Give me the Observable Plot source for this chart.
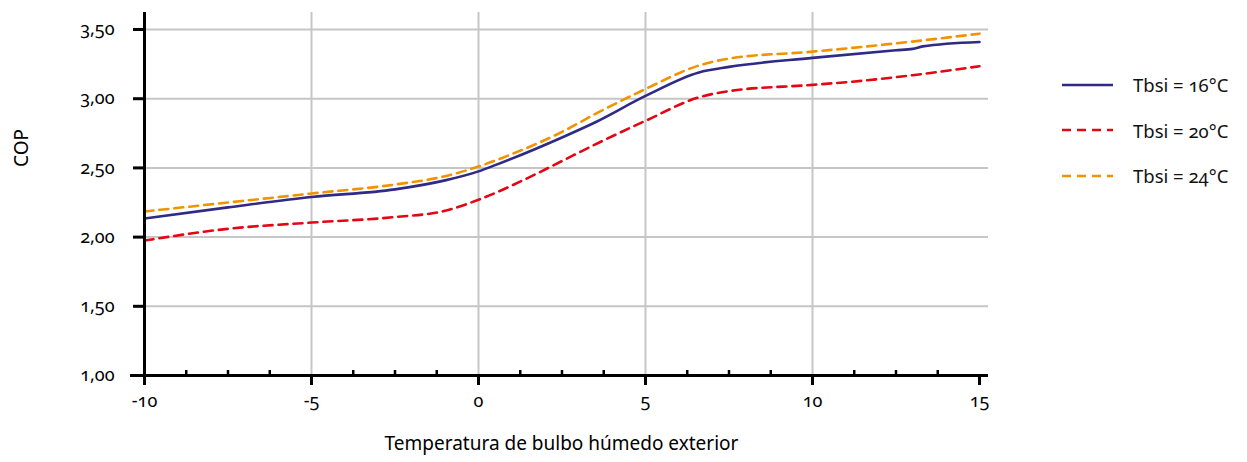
<!DOCTYPE html>
<html><head><meta charset="utf-8">
<script src="https://cdn.jsdelivr.net/npm/d3@7"></script>
<script src="https://cdn.jsdelivr.net/npm/@observablehq/plot@0.6"></script>
<style>
body{margin:0;background:#fff;font-family:"Noto Sans",sans-serif;}
#wrap{position:relative;width:1247px;height:462px;}
#legend{position:absolute;left:1062px;top:62px;font-size:18.5px;color:#111;font-variant-numeric:oldstyle-nums;}
.item{display:flex;align-items:center;height:45.5px;}
.item svg{margin-right:20px;}
svg text{font-variant-numeric:oldstyle-nums;}
</style></head><body><div id="wrap"><div id="legend"></div></div>
<script>
// Series names and styles
const seriesNames = ["Tbsi = 16°C", "Tbsi = 20°C", "Tbsi = 24°C"];
const seriesColors = ["#2e2a85", "#e30613", "#f39200"];
const seriesDash = [null, "9 6", "9 6"];

// Tbsi = 16°C
const t16 = [-10, -7.5, -5, -2.5, -1, 0, 0.5, 2.5, 3.5, 5, 6.6, 7.5, 10, 12.5, 13, 13.3, 15];
const cop16 = [2.135, 2.215, 2.29, 2.345, 2.41, 2.475, 2.52, 2.72, 2.83, 3.02, 3.19, 3.23, 3.295, 3.35, 3.36, 3.378, 3.41];
// Tbsi = 20°C
const t20 = [-10, -7.5, -5, -2.5, -1, 0, 1.5, 2.5, 3.5, 5, 6.6, 7.5, 10, 11.5, 13, 15];
const cop20 = [1.975, 2.06, 2.105, 2.145, 2.19, 2.27, 2.43, 2.55, 2.67, 2.84, 3.01, 3.055, 3.10, 3.13, 3.17, 3.235];
// Tbsi = 24°C
const t24 = [-10, -7.5, -5, -2.5, -1, 0, 1, 2.5, 3.5, 5, 6.6, 7.5, 10, 12.5, 15];
const cop24 = [2.185, 2.25, 2.315, 2.38, 2.44, 2.51, 2.6, 2.76, 2.89, 3.07, 3.24, 3.29, 3.34, 3.40, 3.47];

const xTicks = [-10, -5, 0, 5, 10, 15];
const xGrid = [-5, 0, 5, 10];
const xMinor = [-8.75, -7.5, -6.25, -3.75, -2.5, -1.25, 1.25, 2.5, 3.75, 6.25, 7.5, 8.75, 11.25, 12.5, 13.75];
const yTicks = [1, 1.5, 2, 2.5, 3, 3.5];

const seriesT = [t16, t20, t24];
const seriesC = [cop16, cop20, cop24];
const rows = [];
seriesNames.forEach((s, i) => seriesT[i].forEach((t, j) => rows.push({serie: s, t, cop: seriesC[i][j]})));

const fmtY = d => d.toFixed(2).replace(".", ",");

const lineMarks = seriesNames.map((s, i) => Plot.line(rows.filter(r => r.serie === s), {
  x: "t", y: "cop", stroke: seriesColors[i], strokeWidth: 2.6,
  strokeDasharray: seriesDash[i], curve: "monotone-x"
}));

const chart = Plot.plot({
  width: 1247, height: 462,
  marginLeft: 144, marginRight: 259, marginTop: 12, marginBottom: 87,
  style: {fontFamily: "Noto Sans", fontSize: "18px", color: "#000", background: "transparent"},
  x: {domain: [-10, 15.27]},
  y: {domain: [1, 3.623]},
  marks: [
    Plot.gridY(yTicks.slice(1), {stroke: "#c6c6c6", strokeOpacity: 1, strokeWidth: 2}),
    Plot.gridX(xGrid, {stroke: "#c6c6c6", strokeOpacity: 1, strokeWidth: 2}),
    ...lineMarks,
    Plot.axisY({ticks: yTicks, tickSize: 11, tickPadding: 19, tickFormat: fmtY, strokeWidth: 3, label: null, fontSize: 18}),
    Plot.axisX({ticks: xTicks, tickSize: 10, tickPadding: 9, tickFormat: d => String(d), strokeWidth: 3, label: null, fontSize: 18}),
    Plot.axisX({ticks: xMinor, tickSize: -5, tickFormat: () => "", strokeWidth: 2.5, label: null}),
    Plot.ruleY([1], {stroke: "#000", strokeWidth: 3, insetLeft: -14}),
    Plot.ruleX([-10], {stroke: "#000", strokeWidth: 3, insetBottom: -7}),
    Plot.text(["COP"], {frameAnchor: "left", text: d => d, rotate: -90, dx: -123, dy: -27, fontSize: 19}),
    Plot.text(["Temperatura de bulbo húmedo exterior"], {frameAnchor: "bottom", text: d => d, dx: -5, dy: 74, fontSize: 19})
  ]
});
const wrap = document.getElementById("wrap");
wrap.insertBefore(chart, wrap.firstChild);

const legend = document.getElementById("legend");
seriesNames.forEach((s, i) => {
  const div = document.createElement("div");
  div.className = "item";
  div.innerHTML = `<svg width="51" height="6"><line x1="0" x2="51" y1="3" y2="3" stroke="${seriesColors[i]}" stroke-width="2.6" ${seriesDash[i] ? `stroke-dasharray="${seriesDash[i]}"` : ""}/></svg><span>${s}</span>`;
  legend.appendChild(div);
});
</script>
</body></html>
